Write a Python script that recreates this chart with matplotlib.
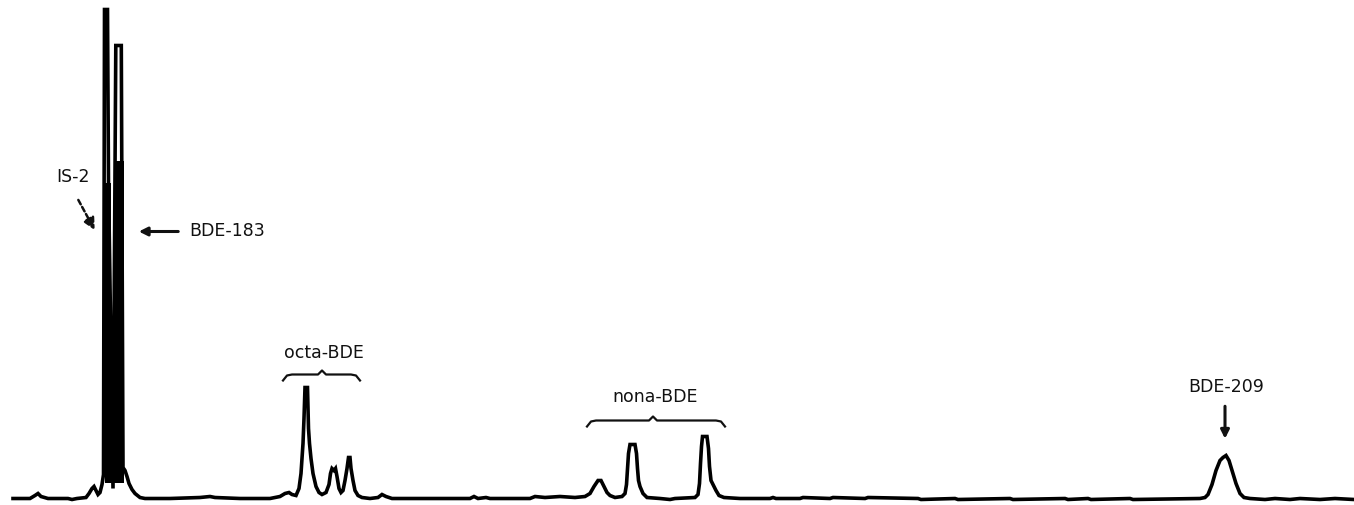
"""Chromatogram of brominated diphenyl ethers (IS-2, BDE-183, octa/nona-BDE, BDE-209)."""

import matplotlib

matplotlib.use("Agg")
import matplotlib.pyplot as plt

# retention (scan number) and detector response
scan = [
    13, 30, 35, 38, 41, 48, 68, 72, 77, 86, 89, 92, 94, 96, 98, 100, 102, 103.5,
    104.5, 107.5, 108.5, 113, 115.8, 121.3, 123, 125, 127, 129, 132, 135, 140, 145,
    170, 200, 210, 215, 240, 270, 280, 285, 289, 292, 296, 299, 301, 302, 303, 304,
    305, 307.5, 308.5, 309.5, 311, 313, 316, 319, 322, 326, 329, 330.5, 332, 334,
    335.5, 337, 339, 341, 343, 345, 347, 348.5, 350, 351, 353, 355, 358, 362, 370,
    378, 382, 386, 392, 430, 470, 474, 478, 486, 490, 530, 535, 545, 560, 575, 585,
    590, 594, 598, 601, 604, 607, 610, 615, 622, 625, 626.5, 627.5, 628.5, 630, 635,
    636.5, 637.5, 638.5, 640, 643, 647, 660, 670, 675, 695, 698, 699.5, 700.5, 701.5, 702.5, 707,
    708.5, 709.5, 711, 713, 716, 719, 724, 740, 770, 773, 776, 800, 803, 830, 833, 865,
    868, 918, 921, 955, 958, 1010, 1013, 1065, 1068, 1088, 1091, 1130, 1133, 1200,
    1205, 1208, 1212, 1216, 1220, 1223, 1226, 1229, 1232, 1236, 1240, 1244, 1250,
    1265, 1275, 1290, 1300, 1320, 1335, 1354,
]
response = [
    0, 0, 3, 5, 2, 0, 0, -1, 0, 1, 5, 10, 12, 8, 4, 6, 14, 24,
    489, 489, 316, 10, 453, 453, 31, 28, 22, 15, 9, 5, 1, 0,
    0, 1, 2, 1, 0, 0, 2, 5, 6, 4, 3, 10, 25, 40, 55, 80,
    111, 111, 70, 55, 40, 25, 12, 6, 4, 6, 14, 25, 30, 28,
    30, 22, 10, 6, 8, 18, 30, 41, 41, 30, 18, 8, 3, 1, 0,
    1, 4, 2, 0, 0, 0, 2, 0, 1, 0, 0, 2, 1, 2, 1, 2,
    5, 12, 18, 18, 12, 6, 3, 1, 2, 5, 14, 30, 45, 54, 54,
    45, 30, 18, 12, 5, 1, 0, -1, 0, 1, 4, 15, 35, 52, 62, 62,
    50, 32, 18, 14, 8, 3, 1, 0, 0, 1, 0, 0, 1, 0, 1, 0,
    1, 0, -1, 0, -1, 0, -1, 0, -1, 0, -1, 0, -1, 0,
    1, 4, 14, 28, 38, 41, 43, 38, 28, 15, 5, 1, 0,
    -1, 0, -1, 0, -1, 0, -1,
]

# detector overload block under the IS-2 / BDE-183 pair
overload_scan = [104.5, 110.5, 110.5, 115, 115, 123.5]
overload_top = [316, 316, 180, 180, 338, 338]

# labels: (text, x, y) and arrow tail -> head
arrow_labels = ["IS-2", "BDE-183", "BDE-209"]
arrow_text_xy = [(73, 321), (227, 267), (1226, 112)]
arrow_tail = [(77, 301), (181, 267), (1225, 95)]
arrow_head = [(96, 266), (136, 267), (1225, 57)]

group_labels = ["octa-BDE", "nona-BDE"]
group_text_xy = [(324, 146), (655, 101)]
group_span = [(283, 360, 322), (587, 725, 653)]
group_brace_y = [124, 78]


def brace(x0, x1, xm, y):
    xs = [x0, x0 + 4, x0 + 9, xm - 4, xm, xm + 4, x1 - 9, x1 - 4, x1]
    ys = [y - 6, y - 1, y, y, y + 4, y, y, y - 1, y - 6]
    return xs, ys


fig = plt.figure(figsize=(13.54, 5.05), dpi=100)
ax = fig.add_axes([0, 0, 1, 1])

ax.fill_between(overload_scan, 16, overload_top, color="black", linewidth=0)
ax.plot(scan, response, color="black", linewidth=2.6, solid_joinstyle="miter")

ax.set_xlim(0, 1354)
ax.set_ylim(-6.5, 498.5)
ax.axis("off")

text_style = dict(fontsize=12.5, color="#111111", ha="center", va="center",
                  fontfamily="DejaVu Sans", fontweight="medium")

styles = [
    dict(arrowstyle="-|>,head_length=0.7,head_width=0.35", lw=1.8, color="#111111",
         linestyle=(0, (2, 1.2))),
    dict(arrowstyle="-|>,head_length=0.5,head_width=0.25", lw=2.2, color="#111111"),
    dict(arrowstyle="-|>,head_length=0.5,head_width=0.25", lw=2.2, color="#111111"),
]
for label, txy, tail, head, style in zip(arrow_labels, arrow_text_xy, arrow_tail,
                                         arrow_head, styles):
    ax.text(*txy, label, **text_style)
    ax.annotate("", xy=head, xytext=tail, arrowprops=style)

for label, txy, span, by in zip(group_labels, group_text_xy, group_span, group_brace_y):
    ax.text(*txy, label, **text_style)
    bx, bys = brace(*span, by)
    ax.plot(bx, bys, color="#111111", linewidth=1.6)

fig.savefig("out.png", dpi=100)
